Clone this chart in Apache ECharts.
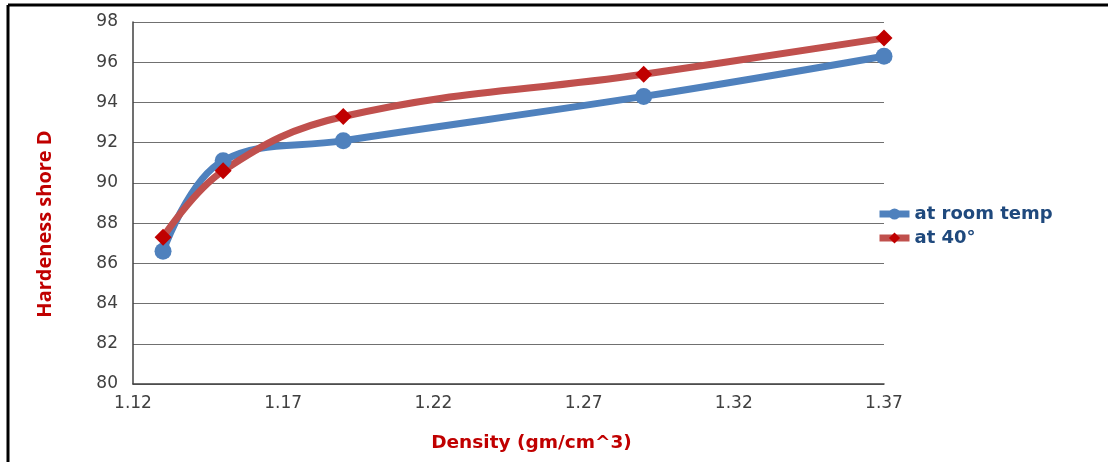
<!DOCTYPE html>
<html>
<head>
<meta charset="utf-8">
<script src="https://cdn.jsdelivr.net/npm/echarts@6/dist/echarts.min.js"></script>
<style>
html,body{margin:0;padding:0;background:#fff;}
#chart{width:1108px;height:462px;}
</style>
</head>
<body>
<div id="chart"></div>
<script>
// Data
var density = [1.13, 1.15, 1.19, 1.29, 1.37];
var roomTemp = [86.6, 91.1, 92.1, 94.3, 96.3];
var at40 = [87.3, 90.6, 93.3, 95.4, 97.2];
var xTicks = [1.12, 1.17, 1.22, 1.27, 1.32, 1.37];
var seriesNames = ['at room temp', 'at 40°'];

function pairs(xs, ys) { return xs.map(function (x, i) { return [x, ys[i]]; }); }

var WIDE = '"DejaVu Sans", "Open Sans", sans-serif';
var FONT = '"Open Sans", "DejaVu Sans", sans-serif';
var chart = echarts.init(document.getElementById('chart'), null, {renderer: 'canvas'});
chart.setOption({
  animation: false,
  backgroundColor: '#ffffff',
  textStyle: {fontFamily: WIDE},
  graphic: [
    {type: 'line', shape: {x1: 8, y1: 5, x2: 1108, y2: 5}, style: {stroke: '#000', lineWidth: 3}},
    {type: 'line', shape: {x1: 8, y1: 5, x2: 8, y2: 462}, style: {stroke: '#000', lineWidth: 3}}
  ],
  grid: {left: 133, top: 22, width: 751, height: 362},
  legend: {
    orient: 'vertical',
    left: 871,
    top: 200,
    itemWidth: 30,
    itemHeight: 14,
    itemGap: 6,
    lineStyle: {width: 7},
    textStyle: {color: '#1F497D', fontWeight: 'bold', fontSize: 18, fontFamily: WIDE},
    data: seriesNames
  },
  xAxis: {
    type: 'value',
    min: xTicks[0],
    max: xTicks[xTicks.length - 1],
    name: 'Density (gm/cm^3)',
    nameLocation: 'middle',
    nameGap: 50,
    nameTextStyle: {color: '#C00000', fontWeight: 'bold', fontSize: 18.5, fontFamily: WIDE, padding: [0, 0, 0, 46]},
    axisLine: {show: true, lineStyle: {color: '#404040', width: 1.5}},
    axisTick: {show: false},
    splitLine: {show: false},
    axisLabel: {
      customValues: xTicks,
      color: '#404040',
      fontSize: 17,
      margin: 11,
      fontFamily: WIDE,
      formatter: function (v) { return v.toFixed(2); }
    }
  },
  yAxis: {
    type: 'value',
    min: 80,
    max: 98,
    interval: 2,
    name: 'Hardeness shore D',
    nameLocation: 'middle',
    nameGap: 78,
    nameRotate: 90,
    nameTextStyle: {color: '#C00000', fontWeight: 'bold', fontSize: 20, fontFamily: FONT, padding: [0, 42, 0, 0]},
    axisLine: {show: true, lineStyle: {color: '#404040', width: 1.5}},
    axisTick: {show: false},
    splitLine: {show: true, lineStyle: {color: '#707070', width: 1.2}},
    axisLabel: {color: '#404040', fontSize: 17, margin: 15, fontFamily: WIDE}
  },
  series: [
    {
      name: seriesNames[0],
      type: 'line',
      smooth: 0.4,
      data: pairs(density, roomTemp),
      symbol: 'circle',
      symbolSize: 17,
      lineStyle: {color: '#4F81BD', width: 7},
      itemStyle: {color: '#4F81BD'}
    },
    {
      name: seriesNames[1],
      type: 'line',
      smooth: 0.4,
      data: pairs(density, at40),
      symbol: 'diamond',
      symbolSize: 17,
      lineStyle: {color: '#C0504D', width: 7},
      itemStyle: {color: '#C00000'}
    }
  ]
});
</script>
</body>
</html>
